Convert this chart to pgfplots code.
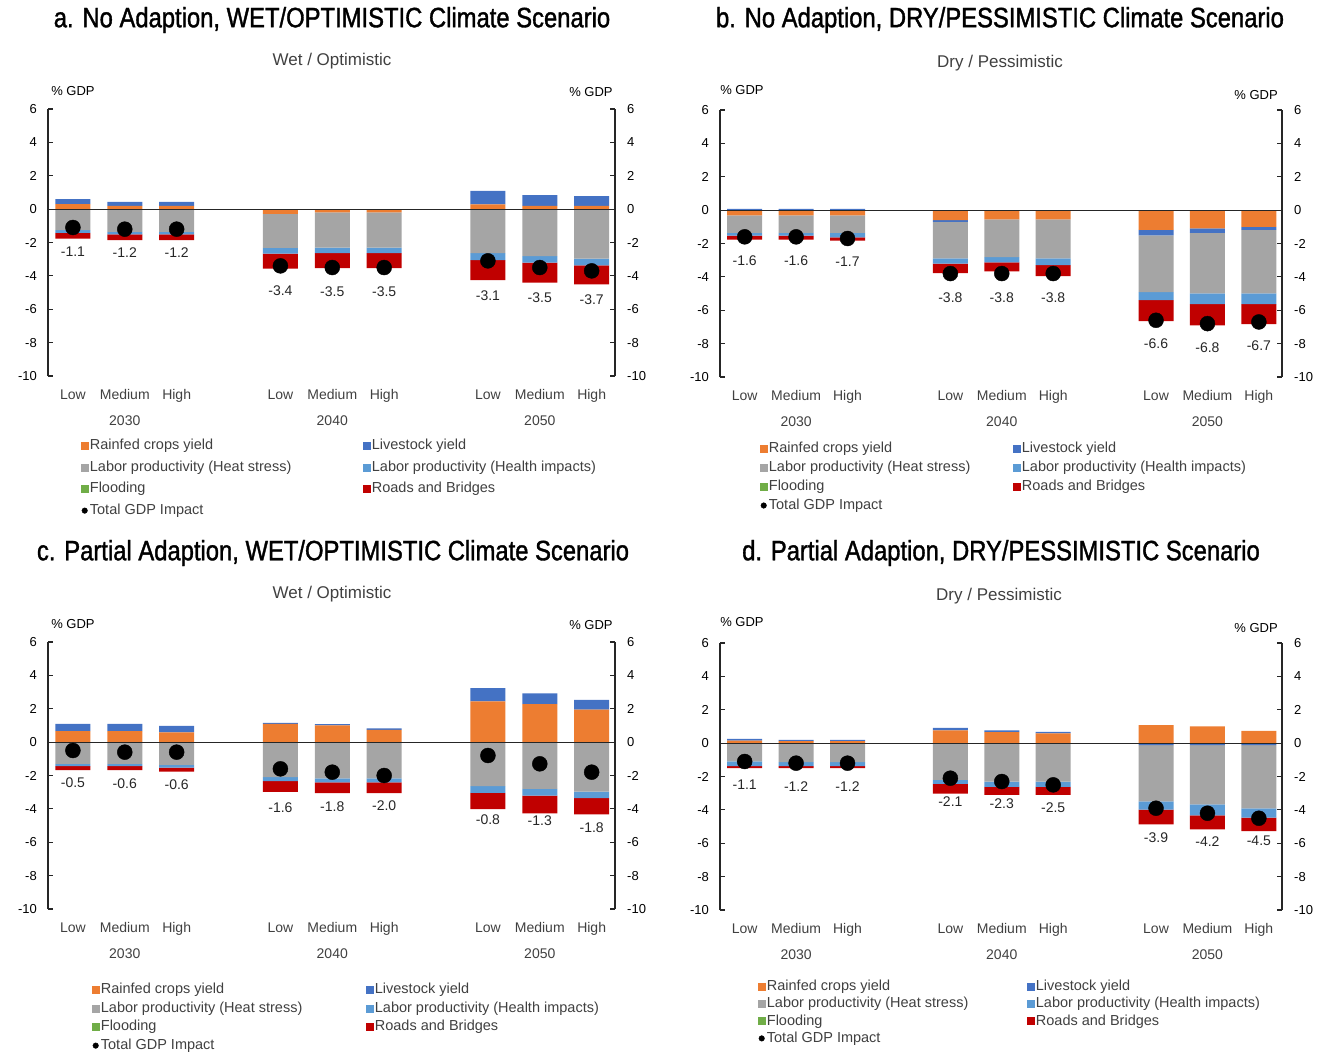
\documentclass[border=0pt]{standalone}
\usepackage{pgfplots}
\pgfplotsset{compat=1.18}
\usepackage{pgfplotstable}
\usepackage{fontspec}
\setmainfont{Liberation Sans}
\newfontfamily\titlefont[FakeStretch=0.85,FakeBold=1.3]{Liberation Sans}
\definecolor{cOr}{HTML}{ED7D31}
\definecolor{cBl}{HTML}{4472C4}
\definecolor{cGr}{HTML}{A5A5A5}
\definecolor{cHe}{HTML}{5B9BD5}
\definecolor{cFl}{HTML}{70AD47}
\definecolor{cRd}{HTML}{C00000}
\definecolor{txt}{HTML}{404040}

% x, positive parts (orange, blue), negative parts (orange, blue, heat, health, roads), total, label y
\pgfplotstableread{
x orP blP orN blN gr he rd tot ly
0 0.30 0.30 0 0 -1.26 -0.16 -0.34 -1.1 -2.56
1 0.20 0.24 0 0 -1.36 -0.16 -0.34 -1.2 -2.62
2 0.20 0.24 0 0 -1.36 -0.16 -0.34 -1.2 -2.62
4 0 0 -0.28 0 -2.04 -0.34 -0.90 -3.4 -4.87
5 0 0 -0.20 0 -2.10 -0.34 -0.90 -3.5 -4.93
6 0 0 -0.20 0 -2.10 -0.34 -0.90 -3.5 -4.93
8 0.28 0.82 0 0 -2.63 -0.42 -1.20 -3.1 -5.17
9 0.20 0.64 0 0 -2.81 -0.40 -1.20 -3.5 -5.29
10 0.20 0.58 0 0 -2.97 -0.40 -1.14 -3.7 -5.41
}\tA
\pgfplotstableread{
x orP blP orN blN gr he rd tot ly
0 0 0.08 -0.32 0 -1.05 -0.16 -0.24 -1.6 -3.05
1 0 0.08 -0.32 0 -1.05 -0.16 -0.24 -1.6 -3.05
2 0 0.08 -0.32 0 -1.05 -0.26 -0.20 -1.7 -3.11
4 0 0 -0.60 -0.10 -2.19 -0.32 -0.56 -3.8 -5.22
5 0 0 -0.56 0 -2.25 -0.32 -0.54 -3.8 -5.22
6 0 0 -0.56 0 -2.33 -0.40 -0.66 -3.8 -5.22
8 0 0 -1.18 -0.34 -3.39 -0.48 -1.26 -6.6 -7.99
9 0 0 -1.10 -0.26 -3.63 -0.64 -1.28 -6.8 -8.23
10 0 0 -1.00 -0.18 -3.81 -0.64 -1.20 -6.7 -8.11
}\tB
\pgfplotstableread{
x orP blP orN blN gr he rd tot ly
0 0.66 0.44 0 0 -1.30 -0.14 -0.24 -0.5 -2.42
1 0.66 0.44 0 0 -1.30 -0.14 -0.24 -0.6 -2.48
2 0.58 0.40 0 0 -1.36 -0.16 -0.24 -0.6 -2.54
4 1.10 0.06 0 0 -2.10 -0.24 -0.64 -1.6 -3.92
5 1.00 0.08 0 0 -2.17 -0.24 -0.64 -1.8 -3.86
6 0.74 0.08 0 0 -2.17 -0.24 -0.64 -2.0 -3.80
8 2.44 0.80 0 0 -2.64 -0.40 -0.97 -0.8 -4.64
9 2.28 0.64 0 0 -2.80 -0.40 -1.07 -1.3 -4.70
10 1.95 0.58 0 0 -2.96 -0.40 -0.97 -1.8 -5.12
}\tC
\pgfplotstableread{
x orP blP orN blN gr he rd tot ly
0 0.15 0.10 0 0 -1.10 -0.28 -0.12 -1.1 -2.48
1 0.12 0.08 0 0 -1.14 -0.24 -0.12 -1.2 -2.60
2 0.12 0.08 0 0 -1.14 -0.24 -0.12 -1.2 -2.60
4 0.76 0.16 0 0 -2.20 -0.24 -0.58 -2.1 -3.50
5 0.66 0.10 0 0 -2.30 -0.32 -0.48 -2.3 -3.62
6 0.58 0.10 0 0 -2.30 -0.32 -0.48 -2.5 -3.86
8 1.08 0 0 -0.12 -3.37 -0.50 -0.88 -3.9 -5.65
9 1.00 0 0 -0.12 -3.55 -0.66 -0.84 -4.2 -5.89
10 0.74 0 0 -0.12 -3.79 -0.56 -0.80 -4.5 -5.83
}\tD

\pgfplotsset{
  panel/.style={scale only axis, height=267pt, xmin=-0.48, xmax=10.45, ymin=-10, ymax=6, clip=false},
  sq/.style={legend image code/.code={\fill[#1] (0pt,-3.5pt) rectangle (7pt,3.5pt);}},
  leg/.style={legend cell align=left, legend columns=1,
    legend style={draw=none, fill=none, inner sep=0pt, outer sep=0pt,
      font=\fontsize{14.5}{16}\selectfont, text=txt,
      nodes={inner sep=1.5pt, text height=11pt, text depth=3pt},
      at={(axis description cs:0,0)}, anchor=north west}},
  leftax/.style={
    axis y line*=left, axis x line*=bottom,
    x axis line style={draw=none}, y axis line style={line width=1.1pt, black!85},
    ytick={-10,-8,...,6}, tick align=inside, major tick length=5pt,
    ytick style={line width=1.1pt, black!85},
    xtick={0,1,2,4,5,6,8,9,10},
    xticklabels={Low,Medium,High,Low,Medium,High,Low,Medium,High},
    xtick style={draw=none},
    xticklabel style={font=\fontsize{14}{16}\selectfont, text=txt, inner sep=0pt, anchor=north, yshift=-13.5pt},
    extra x ticks={1,5,9}, extra x tick labels={2030,2040,2050},
    extra x tick style={major tick length=0pt, tick label style={yshift=-26.5pt}},
    yticklabel style={font=\fontsize{13}{15}\selectfont, inner sep=0pt, anchor=east, xshift=-11pt},
    /pgf/number format/assume math mode=true},
  rightax/.style={
    axis y line*=right, axis x line=none,
    y axis line style={line width=1.1pt, black!85},
    ytick={-10,-8,...,6}, tick align=inside, major tick length=5pt,
    ytick style={line width=1.1pt, black!85},
    yticklabel style={font=\fontsize{13}{15}\selectfont, inner sep=0pt, anchor=west, xshift=12pt},
    /pgf/number format/assume math mode=true}
}

% #1 table, #2 left x, #3 top y, #4 width, #5 legend col1 xshift, #6 col2 xshift, #7 legend yshift, #8 row sep
\newcommand{\panel}[8]{%
\begin{axis}[panel, width=#4pt, at={(#2pt,-#3pt)}, anchor=north west, hide axis, ybar stacked, bar width=35pt]
  \addplot[fill=cOr, draw=none] table[x=x,y=orP]{#1};
  \addplot[fill=cBl, draw=none] table[x=x,y=blP]{#1};
\end{axis}
\begin{axis}[panel, leftax, leg, width=#4pt, at={(#2pt,-#3pt)}, anchor=north west,
  ybar stacked, bar width=35pt,
  legend style={xshift=#5pt, yshift=#7pt, row sep=#8pt}]
  \addplot[fill=cOr, draw=none, forget plot] table[x=x,y=orN]{#1};
  \addplot[fill=cBl, draw=none, forget plot] table[x=x,y=blN]{#1};
  \addplot[fill=cGr, draw=none, forget plot] table[x=x,y=gr]{#1};
  \addplot[fill=cHe, draw=none, forget plot] table[x=x,y=he]{#1};
  \addplot[fill=cRd, draw=none, forget plot] table[x=x,y=rd]{#1};
  \addlegendimage{sq=cOr}\addlegendentry{Rainfed crops yield}
  \addlegendimage{sq=cGr}\addlegendentry{Labor productivity (Heat stress)}
  \addlegendimage{sq=cFl}\addlegendentry{Flooding}
  \addlegendimage{legend image code/.code={\fill[black] (3.5pt,0pt) circle (2.8pt);}}\addlegendentry{Total GDP Impact}
\end{axis}
\begin{axis}[panel, rightax, leg, width=#4pt, at={(#2pt,-#3pt)}, anchor=north west,
  legend style={xshift=#6pt, yshift=#7pt, row sep=#8pt}]
  \addplot[black!85, line width=1.2pt, forget plot] coordinates {(-0.48,0) (10.45,0)};
  \addplot[only marks, mark=*, mark size=7.5pt, black, forget plot] table[x=x,y=tot]{#1};
  \addplot[draw=none, mark=none, forget plot, nodes near coords, point meta=explicit symbolic,
    nodes near coords style={anchor=center, font=\fontsize{14}{16}\selectfont, text=black!85}]
    table[x=x,y=ly,meta=tot]{#1};
  \addlegendimage{sq=cBl}\addlegendentry{Livestock yield}
  \addlegendimage{sq=cHe}\addlegendentry{Labor productivity (Health impacts)}
  \addlegendimage{sq=cRd}\addlegendentry{Roads and Bridges}
\end{axis}
}

\begin{document}
\begin{tikzpicture}
\path[use as bounding box] (0pt,0pt) rectangle (1332pt,-1053pt);

\panel{\tA}{48}{109}{567}{33}{315}{-61}{4.7}
\panel{\tB}{720}{110}{562}{40}{293}{-63}{2}
\panel{\tC}{48}{642}{567}{44}{318}{-72}{1.7}
\panel{\tD}{720}{643}{562}{38}{307}{-68}{0.3}

\tikzset{ttl/.style={font=\titlefont\fontsize{28}{32}\selectfont, anchor=center},
  sub/.style={font=\fontsize{17}{20}\selectfont, text=txt},
  gdp/.style={font=\fontsize{13}{15}\selectfont}}
\node[ttl] at (332pt,-20pt) {a. No Adaption, WET/OPTIMISTIC Climate Scenario};
\node[ttl] at (1000pt,-20pt) {b. No Adaption, DRY/PESSIMISTIC Climate Scenario};
\node[ttl] at (333pt,-553pt) {c. Partial Adaption, WET/OPTIMISTIC Climate Scenario};
\node[ttl] at (1001pt,-553pt) {d. Partial Adaption, DRY/PESSIMISTIC Scenario};

\node[sub] at (332pt,-61pt) {Wet / Optimistic};
\node[sub] at (1000pt,-63pt) {Dry / Pessimistic};
\node[sub] at (332pt,-594pt) {Wet / Optimistic};
\node[sub] at (999pt,-596pt) {Dry / Pessimistic};

\node[gdp] at (73pt,-91pt) {\% GDP};
\node[gdp] at (591pt,-92pt) {\% GDP};
\node[gdp] at (742pt,-90pt) {\% GDP};
\node[gdp] at (1256pt,-95pt) {\% GDP};
\node[gdp] at (73pt,-624pt) {\% GDP};
\node[gdp] at (591pt,-625pt) {\% GDP};
\node[gdp] at (742pt,-622pt) {\% GDP};
\node[gdp] at (1256pt,-628pt) {\% GDP};
\end{tikzpicture}
\end{document}
